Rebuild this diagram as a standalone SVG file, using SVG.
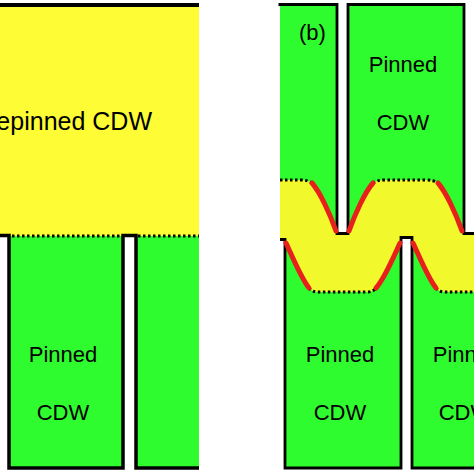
<svg xmlns="http://www.w3.org/2000/svg" width="474" height="474" viewBox="0 0 474 474">
<style>
.g{fill:#2efc2e}
.wall{fill:none;stroke:#000;stroke-width:3.5;stroke-linejoin:miter}
.wallb{fill:none;stroke:#000;stroke-width:2.8}
.dot{fill:none;stroke:#000;stroke-width:3;stroke-dasharray:2.5 2.5}
.red{fill:none;stroke:#e8201c;stroke-width:5;stroke-linecap:round}
.t{font-family:"Liberation Sans",Arial,sans-serif;fill:#000}
</style>
<rect width="474" height="474" fill="#fff"/>
<!-- panel (a) -->
<g id="a-depinned">
<rect x="0" y="5" width="199" height="231" fill="#fdfc35"/>
<line x1="0" y1="5" x2="199" y2="5" stroke="#000" stroke-width="4"/>
<text class="t" x="152" y="130" font-size="25" text-anchor="end">Depinned CDW</text>
</g>
<g id="a-col1">
<rect class="g" x="9" y="236" width="114" height="232"/>
<text class="t" x="63" y="362" font-size="22" text-anchor="middle">Pinned</text>
<text class="t" x="63" y="420" font-size="22" text-anchor="middle">CDW</text>
</g>
<g id="a-col2">
<rect class="g" x="136" y="236" width="63" height="232"/>
</g>
<g id="a-lines">
<line class="dot" x1="12" y1="236" x2="122" y2="236"/>
<line class="dot" x1="138" y1="236" x2="199" y2="236"/>
<path class="wall" d="M0,235.5 H9 V468 H123 V235.5 H136 V468 H199"/>
</g>
<!-- panel (b) -->
<g id="b-top1">
<rect class="g" x="280" y="4.5" width="57" height="229"/>
<text class="t" x="299" y="40" font-size="22">(b)</text>
</g>
<g id="b-top2">
<rect class="g" x="348" y="4.5" width="116" height="229"/>
<text class="t" x="403" y="72" font-size="22" text-anchor="middle">Pinned</text>
<text class="t" x="403" y="130" font-size="22" text-anchor="middle">CDW</text>
</g>
<g id="b-bot1">
<rect class="g" x="285" y="237" width="116" height="231"/>
</g>
<g id="b-bot2">
<rect class="g" x="412" y="237" width="62" height="231"/>
</g>
<g id="b-band">
<path fill="#f1f92c" d="M280,180 L300,180 Q308,180 312,183 C320,192 330,214 337,233 L348,233 C355,214 365,192 373,183 Q377,180 385,180 L425,180 Q434,180 438,183 C446,192 456,214 463,233 L474,233 L474,292 L445,292 Q439,292 436,288 C428,278 420,258 412,241 L412,237 L401,237 L401,241 C393,258 385,278 376,288 Q373,292 367,292 L318,292 Q312,292 309,288 C301,278 293,258 285,241 L280,240 Z"/>
</g>
<g id="b-text-bottom">
<text class="t" x="340" y="362" font-size="22" text-anchor="middle">Pinned</text>
<text class="t" x="340" y="420" font-size="22" text-anchor="middle">CDW</text>
<text class="t" x="467" y="362" font-size="22" text-anchor="middle">Pinned</text>
<text class="t" x="465" y="420" font-size="22" text-anchor="middle">CDW</text>
</g>
<g id="b-lines">
<path class="wallb" d="M278.5,4.5 H337 V233.5 H348 V4.5 H464 V233.5 H474"/>
<path class="wallb" d="M280,239.5 H285 V468 H401 V237.5 H412 V468 H474"/>
<path class="dot" d="M280,180 L300,180 Q308,180 312,183"/>
<path class="dot" d="M373,183 Q377,180 385,180 L425,180 Q434,180 438,183"/>
<path class="dot" d="M309,288 Q312,292 318,292 L367,292 Q373,292 376,288"/>
<path class="dot" d="M436,288 Q439,292 445,292 L474,292"/>
<path class="red" d="M312,183 C320,192 330,214 336,231"/>
<path class="red" d="M349,231 C355,214 365,192 373,183"/>
<path class="red" d="M438,183 C446,192 456,214 462,231"/>
<path class="red" d="M286,243 C293,258 301,278 309,288"/>
<path class="red" d="M376,288 C385,278 393,258 400,243"/>
<path class="red" d="M413,243 C420,258 428,278 436,288"/>
</g>
</svg>
